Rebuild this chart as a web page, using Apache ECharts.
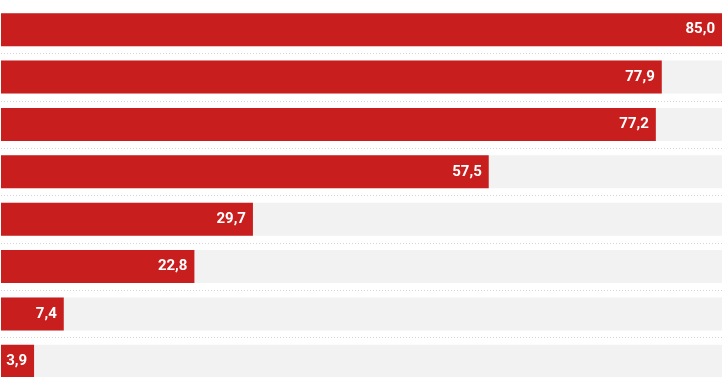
<!DOCTYPE html>
<html>
<head>
<meta charset="utf-8">
<script src="https://cdn.jsdelivr.net/npm/echarts@6/dist/echarts.min.js"></script>
<style>
  html, body { margin: 0; padding: 0; background: #fff; overflow: hidden; }
  /* taller than the window: the last row is cut off at the bottom edge */
  #chart { width: 728px; height: 385px; }
</style>
</head>
<body>
<div id="chart"></div>
<script>
// rows, top to bottom
const categories = ['1', '2', '3', '4', '5', '6', '7', '8'];
const values = [85.0, 77.9, 77.2, 57.5, 29.7, 22.8, 7.4, 3.9];
const maxValue = 85;

const chart = echarts.init(document.getElementById('chart'));

chart.setOption({
    animation: false,
    grid: { left: 1, right: 6, top: 6, bottom: 0 },
    xAxis: {
        type: 'value',
        min: 0,
        max: maxValue,
        show: false
    },
    yAxis: {
        type: 'category',
        data: categories,
        inverse: true,
        axisLine: { show: false },
        axisTick: { show: false },
        axisLabel: { show: false },
        splitLine: {
            show: true,
            showMinLine: false,
            lineStyle: { color: '#d4d4d4', type: [1, 2], width: 1 }
        }
    },
    series: [{
        type: 'bar',
        data: values,
        barWidth: 33,
        itemStyle: { color: '#c81e1e' },
        showBackground: true,
        backgroundStyle: { color: '#f2f2f2' },
        label: {
            show: true,
            position: 'insideRight',
            distance: 7,
            color: '#fff',
            fontFamily: 'Roboto',
            fontWeight: 'bold',
            fontSize: 15,
            formatter: p => p.value.toFixed(1).replace('.', ',')
        }
    }]
});
</script>
</body>
</html>
